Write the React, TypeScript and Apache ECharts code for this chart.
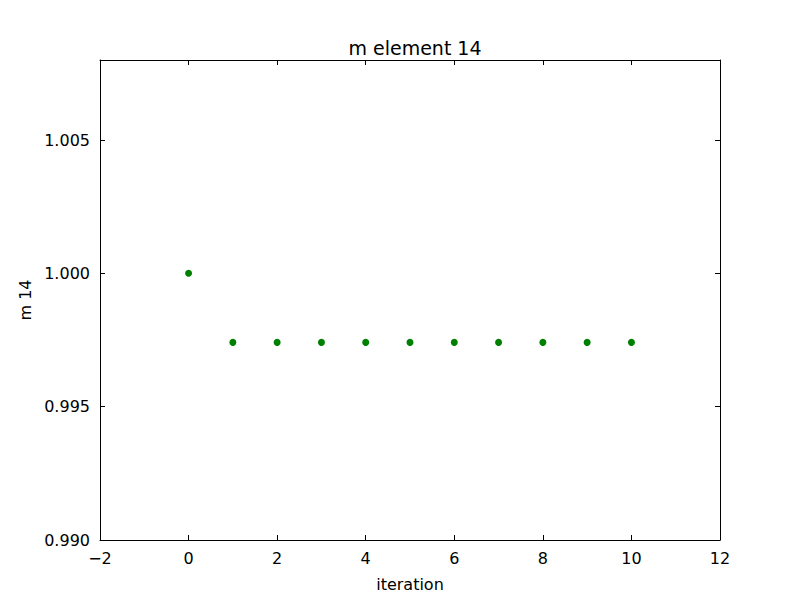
import React, { useEffect, useRef } from "react";
import * as echarts from "echarts";

const iterations = [0, 1, 2, 3, 4, 5, 6, 7, 8, 9, 10];
const values = [1.0, 0.99741, 0.99741, 0.99741, 0.99741, 0.99741, 0.99741, 0.99741, 0.99741, 0.99741, 0.99741];

const FONT = "DejaVu Sans";

export default function App() {
  const ref = useRef<HTMLDivElement>(null);
  useEffect(() => {
    if (!ref.current) return;
    const chart = echarts.init(ref.current, null, { renderer: "svg" });
    const axisLine = { show: true, onZero: false, lineStyle: { color: "#000", width: 1 } };
    const tick = { show: true, inside: true, length: 5, lineStyle: { color: "#000" } };
    const label = { color: "#000", fontFamily: FONT, fontSize: 16 };
    chart.setOption({
      animation: false,
      backgroundColor: "#fff",
      title: {
        text: "m element 14",
        left: 410,
        top: 33,
        textAlign: "center",
        textStyle: { fontFamily: FONT, fontSize: 19, fontWeight: "normal", color: "#000" },
      },
      grid: { left: 100, right: 80, top: 60, bottom: 60, show: false },
      xAxis: [
        {
          type: "value",
          min: -2,
          max: 12,
          interval: 2,
          position: "bottom",
          axisLine,
          axisTick: tick,
          splitLine: { show: false },
          axisLabel: {
            ...label,
            margin: 10,
            formatter: (v: number) => (v < 0 ? "\u2212" + Math.abs(v) : String(v)),
          },
          name: "iteration",
          nameLocation: "middle",
          nameGap: 36,
          nameTextStyle: { color: "#000", fontFamily: FONT, fontSize: 16 },
        },
        {
          type: "value",
          min: -2,
          max: 12,
          interval: 2,
          position: "top",
          axisLine,
          axisTick: tick,
          splitLine: { show: false },
          axisLabel: { show: false },
        },
      ],
      yAxis: [
        {
          type: "value",
          min: 0.99,
          max: 1.008,
          interval: 0.005,
          position: "left",
          axisLine,
          axisTick: tick,
          splitLine: { show: false },
          axisLabel: {
            ...label,
            margin: 10,
            showMaxLabel: false,
            formatter: (v: number) => (Math.abs(v - 1.008) < 1e-9 ? "" : v.toFixed(3)),
          },
          name: "m 14",
          nameLocation: "middle",
          nameGap: 62,
          nameRotate: 90,
          nameTextStyle: { color: "#000", fontFamily: FONT, fontSize: 16 },
        },
        {
          type: "value",
          min: 0.99,
          max: 1.008,
          interval: 0.005,
          position: "right",
          axisLine,
          axisTick: tick,
          splitLine: { show: false },
          axisLabel: { show: false },
        },
      ],
      series: [
        {
          type: "scatter",
          data: iterations.map((x, i) => [x, values[i]]),
          symbol: "circle",
          symbolSize: 7,
          itemStyle: { color: "#008000", opacity: 1 },
          xAxisIndex: 0,
          yAxisIndex: 0,
        },
      ],
    });
    return () => chart.dispose();
  }, []);
  return <div ref={ref} style={{ width: 800, height: 600, position: "absolute", left: 0, top: 0 }} />;
}
